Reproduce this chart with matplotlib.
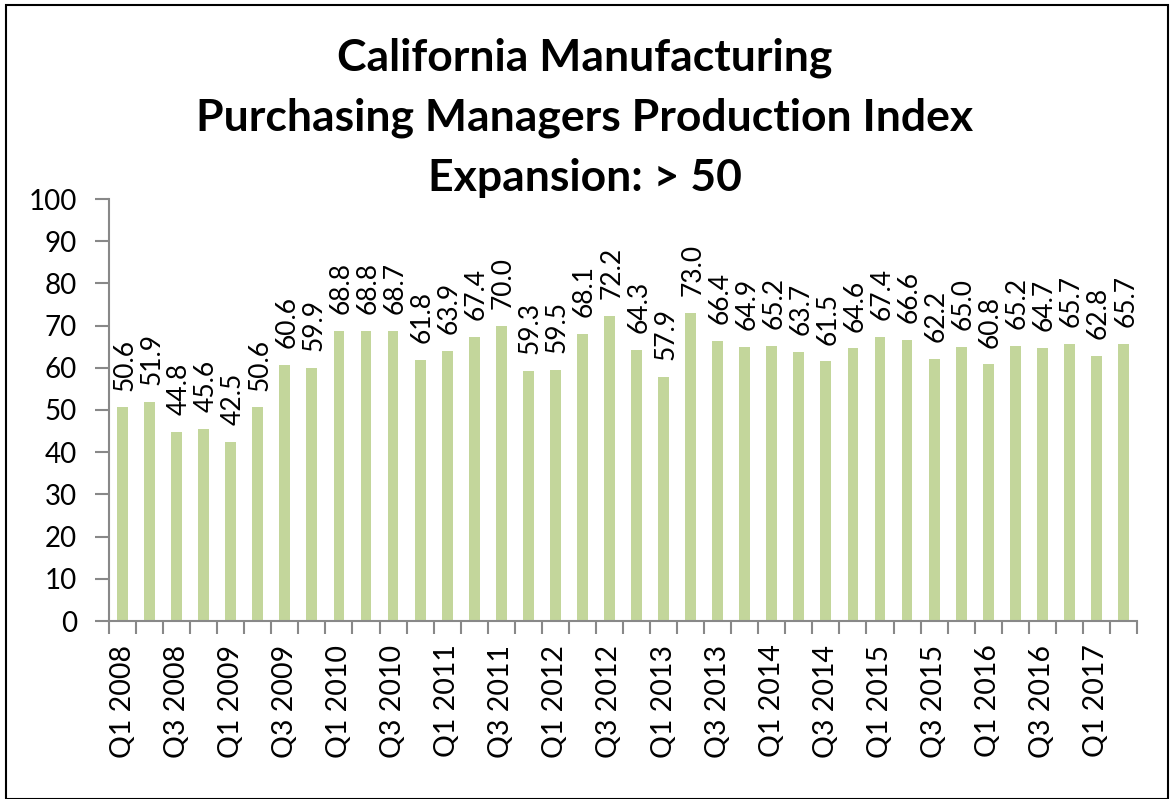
import matplotlib
matplotlib.use("Agg")
import matplotlib.pyplot as plt
from matplotlib.patches import Rectangle

categories = [f"Q{q} {y}" for y in range(2008, 2018) for q in (1, 2, 3, 4)][:38]
values = [50.6, 51.9, 44.8, 45.6, 42.5, 50.6, 60.6, 59.9, 68.8, 68.8, 68.7, 61.8,
          63.9, 67.4, 70.0, 59.3, 59.5, 68.1, 72.2, 64.3, 57.9, 73.0, 66.4, 64.9,
          65.2, 63.7, 61.5, 64.6, 67.4, 66.6, 62.2, 65.0, 60.8, 65.2, 64.7, 65.7,
          62.8, 65.7]
title_lines = ["California Manufacturing", "Purchasing Managers Production Index", "Expansion: > 50"]

plt.rcParams['font.family'] = ['Lato', 'DejaVu Sans']
W, H = 1170, 799
fig = plt.figure(figsize=(W / 100, H / 100), dpi=100)
fig.patches.append(Rectangle((6 / W, 0), (1168 - 6) / W, (H - 5) / H, transform=fig.transFigure,
                             fill=False, edgecolor='black', linewidth=1.5))

ax = fig.add_axes([109 / W, 1 - 621 / H, (1137 - 109) / W, (621 - 199) / H])
x = list(range(len(values)))
ax.bar(x, values, width=0.4, color='#c3d69b')
for xi, v in zip(x, values):
    ax.text(xi + 0.08, v + 4.0, f"{v:.1f}", rotation=90, ha='center', va='bottom', fontsize=19)

ax.set_xlim(-0.5, len(values) - 0.5)
ax.set_ylim(0, 100)
ax.set_yticks(range(0, 101, 10))
ax.set_xticks([i for i in x if i % 2 == 0])
ax.set_xticklabels([categories[i] for i in x if i % 2 == 0], rotation=90, fontsize=20.5)
ax.set_xticks([i - 0.5 for i in range(len(values) + 1)], minor=True)
ax.tick_params(axis='x', which='major', length=0, pad=17)
ax.tick_params(axis='x', which='minor', length=9, color='#888888', width=1.5, direction='out')
ax.tick_params(axis='y', labelsize=20, length=10, color='#888888', width=1.5, pad=13)
for s in ['top', 'right']:
    ax.spines[s].set_visible(False)
for s in ['left', 'bottom']:
    ax.spines[s].set_color('#888888')
    ax.spines[s].set_linewidth(1.5)

for i, t in enumerate(title_lines):
    fig.text(0.5, 1 - (58 + 60 * i) / H, t, ha='center', va='center', fontsize=32, fontweight='bold')

fig.savefig("out.png", dpi=100)
